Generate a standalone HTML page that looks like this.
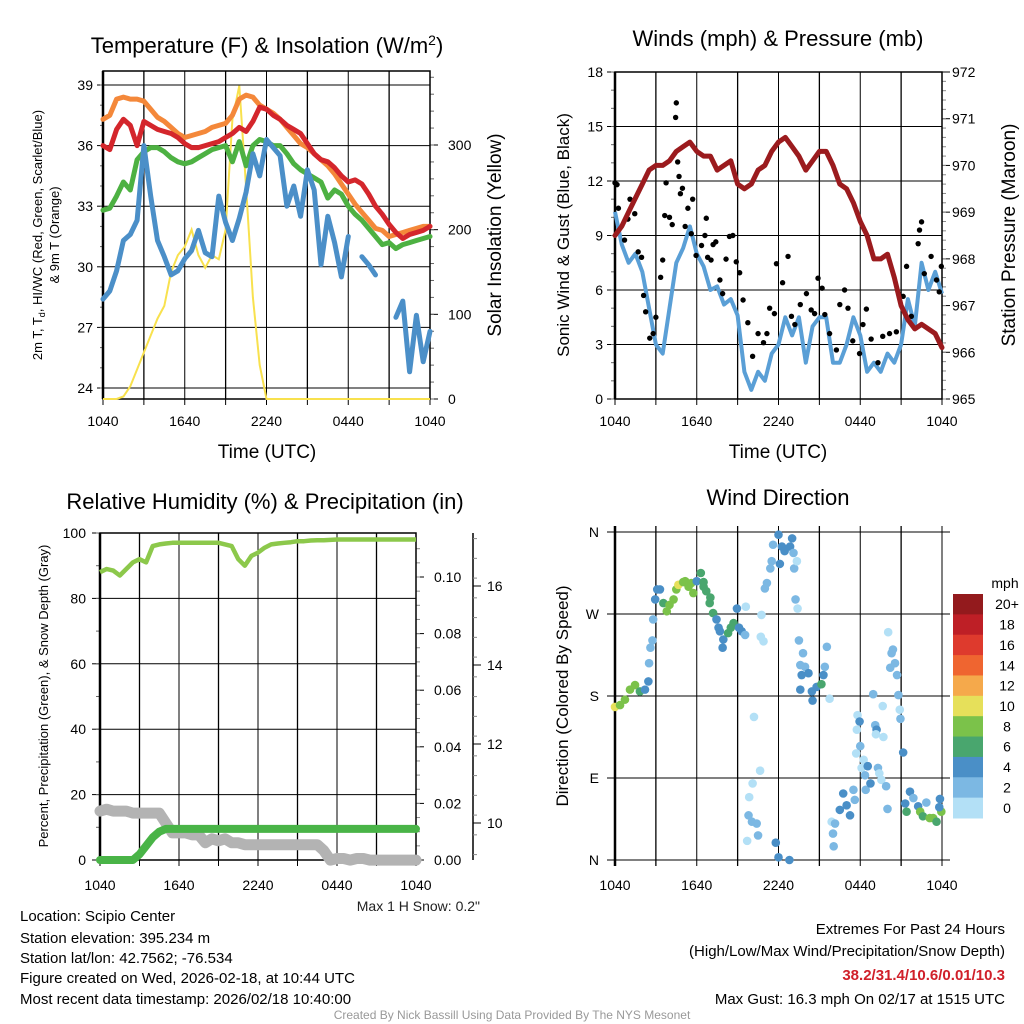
<!DOCTYPE html>
<html><head><meta charset="utf-8">
<style>
html,body{margin:0;padding:0;background:#fff;}
svg{display:block;font-family:"Liberation Sans",Arial,sans-serif;}
</style></head>
<body>
<svg id="fig" width="1024" height="1024" viewBox="0 0 1024 1024" xmlns="http://www.w3.org/2000/svg">
<rect width="1024" height="1024" fill="#fff"/>
<text x="267" y="53" font-size="22" text-anchor="middle">Temperature (F) &amp; Insolation (W/m<tspan dy="-8" font-size="14">2</tspan><tspan dy="8">)</tspan></text>
<text x="778" y="46" font-size="22" text-anchor="middle">Winds (mph) &amp; Pressure (mb)</text>
<text x="265" y="509" font-size="22" text-anchor="middle">Relative Humidity (%) &amp; Precipitation (in)</text>
<text x="778" y="505" font-size="22" text-anchor="middle">Wind Direction</text>
<text x="267" y="458" font-size="19" text-anchor="middle">Time (UTC)</text>
<text x="778" y="458" font-size="19" text-anchor="middle">Time (UTC)</text>
<g font-size="13" text-anchor="middle">
<text transform="translate(42,235) rotate(-90)">2m T, T<tspan font-size="9" dy="3">d</tspan><tspan dy="-3">, HI/WC (Red, Green, Scarlet/Blue)</tspan></text>
<text transform="translate(59,235) rotate(-90)">&amp; 9m T (Orange)</text>
</g>
<text transform="translate(501,235) rotate(-90)" font-size="19" text-anchor="middle">Solar Insolation (Yellow)</text>
<text transform="translate(569,235) rotate(-90)" font-size="17" text-anchor="middle">Sonic Wind &amp; Gust (Blue, Black)</text>
<text transform="translate(1015,235) rotate(-90)" font-size="19" text-anchor="middle">Station Pressure (Maroon)</text>
<text transform="translate(48,696) rotate(-90)" font-size="13" text-anchor="middle">Percent, Precipitation (Green), &amp; Snow Depth (Gray)</text>
<text transform="translate(568,696) rotate(-90)" font-size="17" text-anchor="middle">Direction (Colored By Speed)</text>
<g id="plots"></g>
<text x="480" y="911" font-size="14" text-anchor="end" fill="#222">Max 1 H Snow: 0.2"</text>
<g font-size="15">
<text x="20" y="921">Location: Scipio Center</text>
<text x="20" y="943">Station elevation: 395.234 m</text>
<text x="20" y="963">Station lat/lon: 42.7562; -76.534</text>
<text x="20" y="983">Figure created on Wed, 2026-02-18, at 10:44 UTC</text>
<text x="20" y="1004">Most recent data timestamp: 2026/02/18 10:40:00</text>
</g>
<g font-size="15" text-anchor="end">
<text x="1005" y="934">Extremes For Past 24 Hours</text>
<text x="1005" y="956">(High/Low/Max Wind/Precipitation/Snow Depth)</text>
<text x="1005" y="980" fill="#d0202a" font-weight="bold">38.2/31.4/10.6/0.01/10.3</text>
<text x="1005" y="1004">Max Gust: 16.3 mph On 02/17 at 1515 UTC</text>
</g>
<text x="512" y="1019" font-size="12" text-anchor="middle" fill="#999">Created By Nick Bassill Using Data Provided By The NYS Mesonet</text>
</svg>
<script>
const xTickLabels = ["1040","1640","2240","0440","1040"];
const t9m = [37.3,37.5,38.3,38.4,38.3,38.3,38.2,37.8,37.4,37.2,36.9,36.6,36.4,36.5,36.6,36.7,36.9,37.0,37.1,37.5,38.3,38.5,38.4,38.0,37.8,37.6,37.3,36.9,36.5,36.1,35.9,35.6,35.3,35.0,34.6,34.1,33.6,33.1,32.7,32.3,31.9,31.8,31.5,31.6,31.7,31.8,31.9,32.0,32.0];
const t2m = [36.0,35.8,36.8,37.3,37.0,36.0,37.2,37.0,36.8,36.7,36.6,36.4,36.1,35.9,35.9,36.0,36.1,36.2,36.4,36.6,36.9,36.7,37.2,37.9,37.8,37.5,37.3,37.0,36.8,36.6,36.1,35.6,35.3,35.2,34.9,34.5,34.2,34.3,34.1,33.6,33.0,32.6,32.1,31.7,31.4,31.6,31.7,31.8,32.0];
const hiwc = [32.8,32.9,33.5,34.2,33.8,35.3,35.7,35.9,35.9,35.7,35.4,35.2,35.1,35.2,35.4,35.6,35.8,35.9,36.0,35.2,36.2,35.0,36.0,36.3,36.2,36.0,36.0,35.6,35.1,34.8,34.6,34.4,34.2,33.4,33.8,33.6,33.0,32.6,32.3,31.9,31.5,31.1,31.2,30.9,31.1,31.2,31.3,31.4,31.5];
const dewpt = [28.4,28.8,29.8,31.3,31.6,32.3,36.0,33.5,31.3,30.5,29.6,29.8,30.4,30.8,31.8,30.7,30.5,33.5,32.2,31.3,32.4,33.7,35.6,34.5,36.3,35.9,35.5,33.0,34.0,32.5,34.8,33.8,30.1,32.5,31.2,29.5,31.5,null,30.5,30.1,29.6,null,null,27.5,28.3,24.8,27.6,25.3,26.8];
const solar = [0,0,0,3,15,35,55,75,95,110,150,170,180,200,170,155,170,165,200,330,370,250,120,40,0,0,0,0,0,0,0,0,0,0,0,0,0,0,0,0,0,0,0,0,0,0,0,0,0];
const tempTicks = [24,27,30,33,36,39];
const solarTicks = [0,100,200,300];
const sonicWind = [10.3,8.5,7.5,8.0,7.0,5.0,3.0,2.5,5.0,7.5,8.3,9.5,8.0,7.3,6.0,6.2,5.2,5.5,4.6,1.5,0.5,1.5,1.0,2.5,3.0,4.5,3.5,4.5,2.0,4.0,4.5,4.5,2.0,2.0,3.0,4.5,3.5,1.5,2.0,1.5,2.5,2.0,3.0,5.5,4.0,7.5,6.0,7.0,5.8];
const pressure = [968.5,968.7,969.0,969.3,969.6,969.9,970.0,970.0,970.1,970.3,970.4,970.5,970.3,970.2,970.2,969.9,970.0,970.1,969.6,969.5,969.6,969.9,970.0,970.3,970.5,970.6,970.4,970.2,969.9,970.1,970.3,970.3,970.0,969.6,969.5,969.2,968.8,968.5,968.0,968.0,968.1,967.6,967.0,966.7,966.5,966.6,966.5,966.4,966.1];
const gustHours = [0,0.15,0.25,0.7,0.95,1.1,1.45,1.7,1.95,2.1,2.25,2.55,2.8,3.0,3.35,3.5,3.65,3.75,4.0,4.2,4.45,4.5,4.6,4.7,4.8,4.95,5.15,5.35,5.6,5.7,5.95,6.35,6.6,6.7,6.8,7.05,7.2,7.4,7.7,7.9,8.15,8.4,8.65,8.9,9.15,9.4,9.75,10.1,10.5,10.9,11.15,11.35,11.7,11.85,12.3,12.7,12.95,13.2,13.6,14.05,14.4,14.65,14.9,15.2,15.4,15.75,16.25,16.5,16.85,17.1,17.45,17.95,18.2,18.45,18.8,19.3,19.65,20.15,20.65,21.15,21.4,21.75,22.25,22.35,22.5,22.7,23.2,23.6,23.8,23.95];
const gustMph = [11.9,11.8,10.5,8.75,9.9,11.0,10.2,8.1,7.8,5.7,4.8,3.35,3.6,4.5,6.7,7.65,10.1,11.9,10.0,9.6,15.5,16.3,13.05,12.25,11.3,11.6,9.5,10.5,9.1,11.0,7.9,8.45,9.0,9.95,7.8,7.65,8.5,8.65,6.55,5.8,7.7,8.95,9.0,7.55,6.95,5.45,4.2,2.35,3.6,3.1,3.6,5.0,4.7,7.45,6.4,7.85,4.55,4.1,5.2,5.8,4.9,4.7,6.65,6.1,4.65,3.6,2.7,5.2,6.0,5.0,3.2,2.5,4.1,4.95,3.3,2.0,3.45,3.6,3.7,5.65,7.3,4.55,8.55,9.3,9.75,6.9,7.85,6.55,5.9,7.3];
const windTicks = [0,3,6,9,12,15,18];
const pressTicks = [965,966,967,968,969,970,971,972];
const rh = [88,89,88.5,87,89,91,92,91,96,96.5,96.8,97,97,97,97,97,97,97,97,96.5,96,92,90,93,94,95.5,96.5,96.8,97,97.2,97.5,97.5,97.7,97.8,97.8,97.9,98,98,98,98,98,98,98,98,98,98,98,98,98];
const precip = [0,0,0,0,0,0,0.002,0.005,0.008,0.01,0.011,0.011,0.011,0.011,0.011,0.011,0.011,0.011,0.011,0.011,0.011,0.011,0.011,0.011,0.011,0.011,0.011,0.011,0.011,0.011,0.011,0.011,0.011,0.011,0.011,0.011,0.011,0.011,0.011,0.011,0.011,0.011,0.011,0.011,0.011,0.011,0.011,0.011,0.011];
const snowDepth = [10.3,10.35,10.3,10.3,10.3,10.25,10.25,10.25,10.25,10.25,10.0,9.75,9.75,9.75,9.7,9.7,9.5,9.6,9.55,9.6,9.5,9.5,9.45,9.45,9.45,9.45,9.45,9.45,9.45,9.45,9.45,9.45,9.45,9.45,9.3,9.06,9.1,9.1,9.06,9.1,9.1,9.06,9.06,9.06,9.06,9.06,9.06,9.06,9.06];
const rhTicks = [0,20,40,60,80,100];
const precipTicks = ["0.00","0.02","0.04","0.06","0.08","0.10"];
const snowTicks = [10,12,14,16];
const dirHours = [0,0.37,0.73,1.1,1.47,1.83,2.2,2.45,2.5,2.6,2.75,2.8,2.95,3.1,3.3,3.55,3.8,4.0,4.3,4.5,4.65,5.0,5.15,5.4,5.6,5.75,6.0,6.3,6.5,6.5,6.7,6.95,7.0,7.2,7.45,7.6,7.7,7.95,7.9,8.3,8.5,8.7,8.95,9.1,9.3,9.6,9.55,10.75,10.7,10.9,10.2,10.65,10.1,9.85,9.8,10.05,10.4,10.5,9.7,11.0,11.15,11.4,11.5,11.6,12.0,12.25,12.45,12.85,13.0,13.1,12.1,13.15,13.35,13.25,13.4,13.5,13.8,13.6,13.95,13.7,14.2,13.6,14.45,14.5,14.8,15.15,15.3,15.4,15.55,15.75,15.9,16.15,16.0,16.05,16.5,16.75,17.0,17.25,17.5,17.6,17.7,17.8,17.95,17.75,18.25,18.0,18.1,18.55,18.35,18.4,18.75,18.95,19.1,19.2,19.15,19.3,19.4,19.55,19.7,19.65,19.9,20.0,20.05,20.3,20.4,20.2,20.55,20.7,20.8,20.9,20.95,21.15,21.3,21.4,21.65,21.9,22.25,22.4,22.6,22.85,23.1,23.35,23.6,23.85,23.95,23.8,12.0,12.8,11.8];
const dirDeg = [168,170,176,187,192,185,187,196,216,233,241,264,286,297,297,282,273,280,286,297,302,305,306,300,304,293,306,315,300,305,295,282,288,271,264,255,251,242,233,249,255,260,276,255,251,278,247,269,245,240,157,98,84,69,49,42,40,27,21,298,304,320,328,346,357,344,339,344,353,337,325,320,328,286,276,241,227,214,212,203,205,187,185,175,190,193,203,212,234,177,42,40,29,15,55,73,60,49,77,66,117,159,152,143,110,125,101,103,93,77,84,182,148,143,138,101,95,88,135,169,81,56,250,227,231,211,216,203,181,165,155,118,62,53,75,68,59,53,48,63,46,46,42,67,53,58,3,0,19];
const dirSpeed = [10,8,8,8,8,6,4,4,2,2,2,2,4,4,4,6,8,8,8,8,10,8,8,8,8,8,4,6,6,6,6,6,6,6,4,4,4,4,4,6,6,6,4,4,4,0,2,0,0,0,0,0,0,0,2,2,2,2,0,2,2,2,2,2,4,4,4,4,4,2,4,2,0,2,0,2,2,2,2,4,4,4,4,4,4,6,4,2,2,0,0,2,2,2,4,4,4,4,2,2,0,0,4,0,0,2,0,4,2,2,4,2,2,4,0,2,0,0,0,0,2,2,0,2,2,2,2,2,2,0,2,4,4,6,4,2,4,8,6,2,8,8,6,4,8,4,4,4,4];
const dirTicks = ["N","E","S","W","N"];
const speedBins = ["0","2","4","6","8","10","12","14","16","18","20+"];
const speedColors = ["#b3e0f6","#7cb8e3","#4a8fc7","#49a66e","#7bc24a","#e6e05a","#f5a94b","#ef6530","#de3a2d","#be1f26","#931a1d"];

const NS="http://www.w3.org/2000/svg";
const root=document.getElementById('plots');
function mk(tag,attrs,parent){const e=document.createElementNS(NS,tag);for(const k in attrs)e.setAttribute(k,attrs[k]);(parent||root).appendChild(e);return e;}
function lin(d0,d1,r0,r1){return v=>r0+(v-d0)/(d1-d0)*(r1-r0);}
function linePath(xs,ys,vals,xf,yf){let d="",pen=false;vals.forEach((v,i)=>{if(v===null){pen=false;return;}d+=(pen?"L":"M")+xf(xs[i]).toFixed(1)+","+yf(v).toFixed(1);pen=true;});return d;}
const hrs = t9m.map((_,i)=>i*0.5);

function frame(g,x0,x1,y0,y1,hy){
  for(let k=0;k<=8;k++){const x=x0+(x1-x0)*k/8;
    const l=mk('line',{x1:x,x2:x,y1:y0,y2:y1,stroke:'#000','stroke-width':k%2?1.3:1},g);
    
    mk('line',{x1:x,x2:x,y1:y1,y2:y1+6,stroke:'#000'},g);
  }
  mk('rect',{x:x0,y:y0,width:x1-x0,height:y1-y0,fill:'none',stroke:'#000','stroke-width':1.5},g);
  mk('line',{x1:x0,x2:x0,y1:y0,y2:y1,stroke:'#000','stroke-width':2.5},g);
  xTickLabels.forEach((t,k)=>{const tx=mk('text',{x:x0+(x1-x0)*k/4,y:hy,'font-size':14,'text-anchor':'middle'},g);tx.textContent=t;
    });
}

(function(){
  const g=mk('g',{});
  const X0=103,X1=430,Y0=71,Y1=399;
  const xf=lin(0,24,X0,X1), yf=lin(24,39,388,85), sf=lin(0,300,399,145);
  tempTicks.forEach(v=>{const y=yf(v);mk('line',{x1:X0,x2:X1,y1:y,y2:y,stroke:'#000'},g);mk('line',{x1:X0-6,x2:X0,y1:y,y2:y,stroke:'#000'},g);
    const t=mk('text',{x:X0-10,y:y+5,'font-size':14,'text-anchor':'end'},g);t.textContent=v;});
  for(let v=24;v<=39;v++){mk('line',{x1:X0-3,x2:X0,y1:yf(v),y2:yf(v),stroke:'#666'},g);}
  solarTicks.forEach(v=>{const y=sf(v);mk('line',{x1:X1,x2:X1+8,y1:y,y2:y,stroke:'#000'},g);
    const t=mk('text',{x:X1+18,y:y+5,'font-size':14},g);t.textContent=v;});
  for(let v=0;v<=380;v+=20){mk('line',{x1:X1,x2:X1+4,y1:sf(v),y2:sf(v),stroke:'#666'},g);}
  frame(g,X0,X1,Y0,Y1,426);
  const sp=mk('path',{d:linePath(hrs,solar,solar,xf,sf),fill:'none',stroke:'#f8e14e','stroke-width':2},g);
  const series=[[t9m,'#f4883a','orange-9m-temp-line'],[t2m,'#d4262c','red-2m-temp-line'],[hiwc,'#4db142','green-hiwc-line'],[dewpt,'#4b8fc8','blue-dewpoint-line']];
  series.forEach(([s,c,n])=>{const p=mk('path',{d:linePath(hrs,s,s,xf,yf),fill:'none',stroke:c,'stroke-width':5,'stroke-linejoin':'round','stroke-linecap':'round'},g);});
})();

(function(){
  const g=mk('g',{});
  const X0=615,X1=942,Y0=72,Y1=399;
  const xf=lin(0,24,X0,X1), yf=lin(0,18,Y1,Y0), pf=lin(965,972,Y1,Y0);
  windTicks.forEach(v=>{const y=yf(v);mk('line',{x1:X0,x2:X1,y1:y,y2:y,stroke:'#000'},g);mk('line',{x1:X0-8,x2:X0,y1:y,y2:y,stroke:'#000'},g);
    const t=mk('text',{x:X0-12,y:y+5,'font-size':14,'text-anchor':'end'},g);t.textContent=v;});
  for(let v=0;v<=18;v++){mk('line',{x1:X0-4,x2:X0,y1:yf(v),y2:yf(v),stroke:'#666'},g);}
  pressTicks.forEach(v=>{const y=pf(v);mk('line',{x1:X1,x2:X1+8,y1:y,y2:y,stroke:'#000'},g);
    const t=mk('text',{x:X1+10,y:y+5,'font-size':14},g);t.textContent=v;});
  for(let v=965;v<=972;v+=0.2){mk('line',{x1:X1,x2:X1+4,y1:pf(v),y2:pf(v),stroke:'#888'},g);}
  frame(g,X0,X1,Y0,Y1,426);
  const wp=mk('path',{d:linePath(hrs,sonicWind,sonicWind,xf,yf),fill:'none',stroke:'#5a9fd6','stroke-width':4,'stroke-linejoin':'round'},g);
  gustHours.forEach((h,i)=>{const c=mk('circle',{cx:xf(h),cy:yf(gustMph[i]),r:2.7,fill:'#000'},g);
    
    });
  const pp=mk('path',{d:linePath(hrs,pressure,pressure,xf,pf),fill:'none',stroke:'#9b1b1e','stroke-width':5,'stroke-linejoin':'round','stroke-linecap':'round'},g);
})();

(function(){
  const g=mk('g',{});
  const X0=100,X1=416,Y0=533,Y1=860;
  const xf=lin(0,24,X0,X1), yf=lin(0,100,Y1,Y0), pf=lin(0,0.1,Y1,577), sf=lin(10,16,823,586);
  rhTicks.forEach(v=>{const y=yf(v);mk('line',{x1:X0,x2:X1,y1:y,y2:y,stroke:'#000'},g);mk('line',{x1:X0-8,x2:X0,y1:y,y2:y,stroke:'#000'},g);
    const t=mk('text',{x:X0-14,y:y+5,'font-size':14,'text-anchor':'end'},g);t.textContent=v;});
  for(let v=0;v<=100;v+=10){mk('line',{x1:X0-4,x2:X0,y1:yf(v),y2:yf(v),stroke:'#666'},g);}
  precipTicks.forEach(v=>{const y=pf(+v);mk('line',{x1:X1,x2:X1+8,y1:y,y2:y,stroke:'#000'},g);
    const t=mk('text',{x:X1+18,y:y+5,'font-size':14},g);t.textContent=v;});
  for(let v=0;v<=0.115;v+=0.005){mk('line',{x1:X1,x2:X1+4,y1:pf(v),y2:pf(v),stroke:'#888'},g);}
  mk('line',{x1:473,x2:473,y1:533,y2:860,stroke:'#000','stroke-width':1.5},g);
  snowTicks.forEach(v=>{const y=sf(v);mk('line',{x1:473,x2:481,y1:y,y2:y,stroke:'#000'},g);
    const t=mk('text',{x:487,y:y+5,'font-size':14},g);t.textContent=v;});
  for(let v=9.2;v<=17.2;v+=0.5){mk('line',{x1:473,x2:477,y1:sf(v),y2:sf(v),stroke:'#888'},g);}
  frame(g,X0,X1,Y0,Y1,890);
  const gp=mk('path',{d:linePath(hrs,snowDepth,snowDepth,xf,sf),fill:'none',stroke:'#b3b3b3','stroke-width':11,'stroke-linejoin':'round','stroke-linecap':'round'},g);
  const pr=mk('path',{d:linePath(hrs,precip,precip,xf,pf),fill:'none',stroke:'#49b447','stroke-width':8,'stroke-linejoin':'round','stroke-linecap':'round'},g);
  const rp=mk('path',{d:linePath(hrs,rh,rh,xf,yf),fill:'none',stroke:'#8cc84b','stroke-width':4.5,'stroke-linejoin':'round'},g);
})();

(function(){
  const g=mk('g',{});
  const X0=615,X1=942,Y0=532,Y1=860;
  const xf=lin(0,24,X0,X1), yf=lin(0,360,Y1,Y0);
  dirTicks.forEach((v,k)=>{const y=yf(k*90);mk('line',{x1:X0-8,x2:X1+8,y1:y,y2:y,stroke:'#000'},g);
    const t=mk('text',{x:X0-16,y:y+5,'font-size':14,'text-anchor':'end'},g);t.textContent=v;});
  for(let k=0;k<=8;k++){const x=X0+(X1-X0)*k/8;const l=mk('line',{x1:x,x2:x,y1:Y0-6,y2:Y1+6,stroke:'#000','stroke-width':k%2?1.3:1},g);
    }
  mk('line',{x1:X0,x2:X0,y1:Y0-6,y2:Y1+6,stroke:'#000','stroke-width':2.5},g);
  xTickLabels.forEach((t,k)=>{const tx=mk('text',{x:X0+(X1-X0)*k/4,y:890,'font-size':14,'text-anchor':'middle'},g);tx.textContent=t;
    });
  dirHours.forEach((h,i)=>{const s=dirSpeed[i];const bi=Math.min(10,Math.floor(s/2));
    const c=mk('circle',{cx:xf(h),cy:yf(dirDeg[i]),r:4.3,fill:speedColors[bi]},g);
    
    });
  const cb=mk('g',{},g);
  const bx=953,bw=30,btop=594,bh=(818-594)/11;
  speedBins.forEach((_,k)=>{const idx=10-k;const y=btop+k*bh;
    mk('rect',{x:bx,y:y,width:bw,height:bh+0.5,fill:speedColors[idx]},cb);
    const t=mk('text',{x:1007,y:y+bh/2+5,'font-size':14,'text-anchor':'middle'},cb);t.textContent=speedBins[idx];});
  const u=mk('text',{x:1005,y:588,'font-size':14,'text-anchor':'middle'},cb);u.textContent='mph';
})();
</script>
</body></html>
